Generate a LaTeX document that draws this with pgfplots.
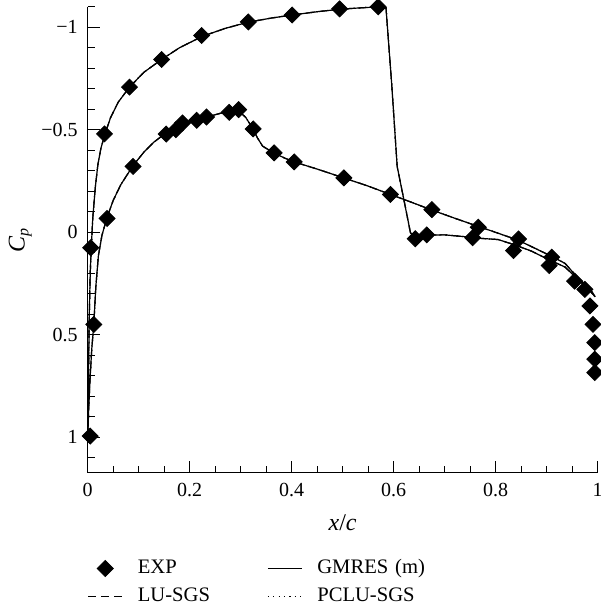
\documentclass[border=0pt]{standalone}
\usepackage{fontspec}
\setmainfont{Liberation Serif}
\usepackage{pgfplots}
\usepackage{pgfplotstable}
\pgfplotsset{compat=1.18}

\pgfplotsset{
  seg legend/.style={legend image code/.code={\draw[##1] (0pt,0pt) -- (17pt,0pt);}},
  dot legend/.style={legend image code/.code={\draw[mark repeat=2, mark phase=2, ##1]
    plot coordinates {(0pt,0pt) (8.5pt,0pt) (17pt,0pt)};}},
}

% Computed surface pressure distribution: lower surface from the trailing
% edge to the leading edge, then the upper surface back to the trailing edge.
\pgfplotstableread{
x cp
0.995 0.315
0.990 0.295
0.975 0.255
0.955 0.205
0.936 0.152
0.910 0.118
0.870 0.070
0.845 0.040
0.805 0.005
0.766 -0.028
0.720 -0.068
0.675 -0.108
0.635 -0.146
0.594 -0.184
0.550 -0.225
0.502 -0.265
0.450 -0.308
0.405 -0.343
0.388 -0.360
0.366 -0.385
0.343 -0.420
0.333 -0.460
0.324 -0.505
0.310 -0.560
0.296 -0.592
0.278 -0.588
0.260 -0.580
0.233 -0.562
0.214 -0.548
0.186 -0.528
0.173 -0.512
0.154 -0.485
0.130 -0.440
0.110 -0.390
0.089 -0.325
0.065 -0.232
0.050 -0.155
0.038 -0.072
0.028 0.015
0.021 0.115
0.016 0.265
0.012 0.450
0.008 0.570
0.005 0.700
0.002 0.860
0.000 1.020
0.001 0.850
0.002 0.620
0.003 0.420
0.005 0.200
0.007 0.076
0.010 -0.070
0.015 -0.220
0.020 -0.330
0.026 -0.410
0.034 -0.480
0.045 -0.560
0.060 -0.635
0.082 -0.708
0.110 -0.780
0.145 -0.843
0.180 -0.900
0.224 -0.955
0.270 -0.995
0.315 -1.025
0.360 -1.045
0.401 -1.060
0.450 -1.076
0.494 -1.088
0.530 -1.094
0.570 -1.100
0.585 -1.096
0.596 -0.730
0.607 -0.320
0.620 -0.160
0.633 0.003
0.643 0.028
0.665 0.014
0.700 0.013
0.740 0.022
0.770 0.030
0.805 0.036
0.835 0.060
0.870 0.092
0.905 0.135
0.936 0.170
0.955 0.215
0.975 0.265
0.990 0.300
0.995 0.315
}\cpcurve

% Experimental pressure coefficients
\pgfplotstableread{
x cp
0.006 0.076
0.033 -0.480
0.082 -0.708
0.145 -0.843
0.2235 -0.960
0.315 -1.026
0.401 -1.060
0.494 -1.090
0.5696 -1.100
0.6425 0.032
0.665 0.013
0.755 0.027
0.835 0.090
0.905 0.163
0.955 0.239
0.975 0.279
0.985 0.360
0.991 0.450
0.9945 0.539
0.9945 0.620
0.9945 0.685
0.005 0.995
0.012 0.450
0.038 -0.067
0.089 -0.321
0.154 -0.479
0.173 -0.500
0.186 -0.533
0.2137 -0.546
0.233 -0.562
0.2776 -0.585
0.296 -0.598
0.3245 -0.504
0.3656 -0.387
0.405 -0.343
0.5024 -0.265
0.5937 -0.184
0.675 -0.110
0.766 -0.024
0.845 0.033
0.910 0.122
}\cpexp

\begin{document}
\begin{tikzpicture}
\begin{axis}[
  scale only axis,
  width=255pt, height=233pt,
  xmin=0, xmax=1,
  ymin=-1.1, ymax=1.174,
  y dir=reverse,
  clip=false,
  axis x line*=bottom,
  axis y line*=left,
  axis line style={line width=0.6pt},
  tick align=inside,
  major tick length=6pt,
  minor tick length=3.5pt,
  every tick/.style={black, line width=0.5pt},
  xtick={0,0.2,0.4,0.6,0.8,1},
  xticklabels={0,0.2,0.4,0.6,0.8,1},
  minor xtick={0.05,0.1,0.15,0.25,0.3,0.35,0.45,0.5,0.55,0.65,0.7,0.75,0.85,0.9,0.95},
  ytick={-1,-0.5,0,0.5,1},
  yticklabels={−1,−0.5,0,0.5,1},
  minor ytick={-1.1,-0.9,-0.8,-0.7,-0.6,-0.4,-0.3,-0.2,-0.1,0.1,0.2,0.3,0.4,0.6,0.7,0.8,0.9,1.1},
  tick label style={font=\fontsize{10}{12}\selectfont},
  xticklabel style={anchor=base, yshift=-11.65pt},
  yticklabel style={anchor=east, xshift=-1.5pt},
  xlabel={\textit{x}/\textit{c}},
  ylabel={\textit{C}\textsubscript{\textit{p}}},
  label style={font=\fontsize{12}{14}\selectfont},
  xlabel style={at={(axis description cs:0.5,-0.123)}, anchor=base},
  ylabel style={at={(axis description cs:-0.1235,0.5)}, anchor=base},
  legend columns=2,
  legend cell align=left,
  legend style={
    at={(axis description cs:0,0)}, anchor=north west, yshift=-43.4pt,
    draw=none, fill=none, inner sep=0pt, outer sep=0pt,
    font=\fontsize{10.3}{12}\selectfont,
    nodes={inner sep=0pt, text height=7pt, text depth=2pt,
           text width=57.15pt, align=left},
    row sep=5pt,
    column sep=7.5pt,
  },
  seg legend,
]
\addlegendimage{dot legend, only marks, mark=square*, mark size=2.83pt,
  mark options={rotate=45, fill=black, draw=black, solid}}
\addlegendentry{EXP}
\addlegendimage{seg legend, black, line width=0.6pt}
\addlegendentry{GMRES (m)}
\addlegendimage{seg legend, black, line width=0.6pt, dash pattern=on 4pt off 2.5pt}
\addlegendentry{LU-SGS}
\addlegendimage{seg legend, black, line width=0.6pt, dash pattern=on 0.6pt off 2.1pt}
\addlegendentry{PCLU-SGS}

\addplot[forget plot, black, line width=0.6pt, dash pattern=on 0.6pt off 2.1pt] table[x=x, y=cp] {\cpcurve};
\addplot[forget plot, black, line width=0.6pt, dash pattern=on 4pt off 2.5pt] table[x=x, y=cp] {\cpcurve};
\addplot[forget plot, black, line width=0.6pt] table[x=x, y=cp] {\cpcurve};
\addplot[forget plot, only marks, mark=square*, mark size=2.83pt,
  mark options={rotate=45, fill=black, draw=black}] table[x=x, y=cp] {\cpexp};
\end{axis}
\pgfresetboundingbox
\path[use as bounding box] (-43.85pt,-69.15pt) rectangle (256.65pt,236.4pt);
\end{tikzpicture}
\end{document}
